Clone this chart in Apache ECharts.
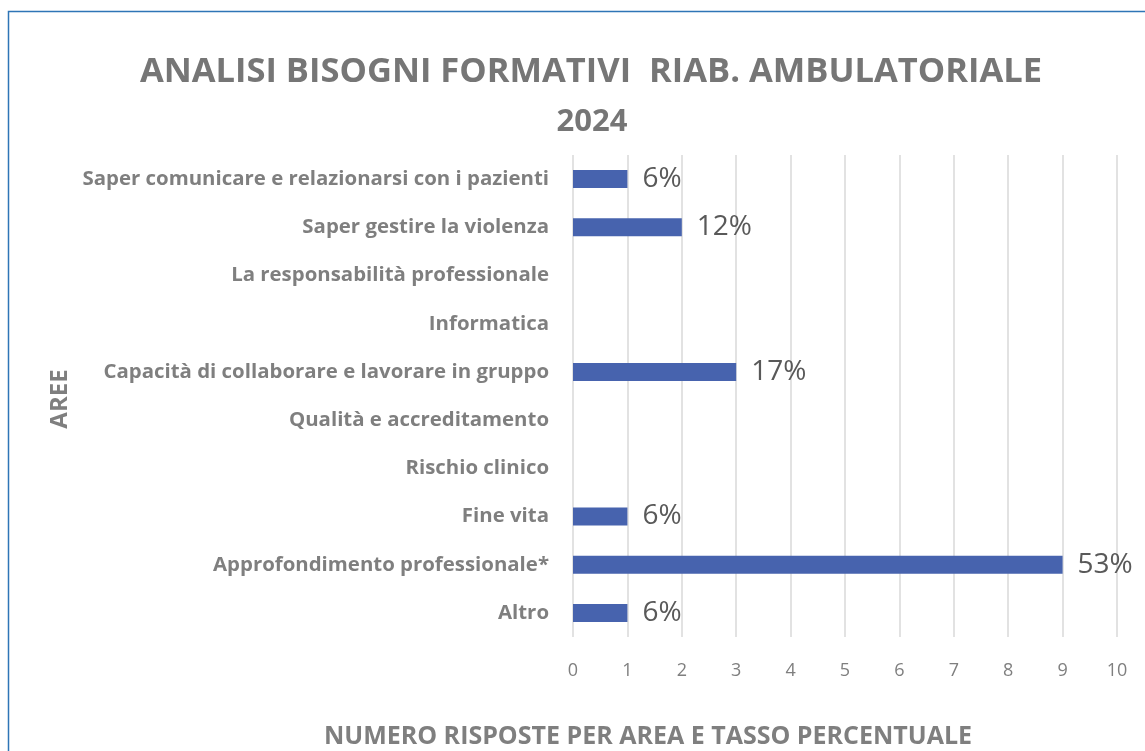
<!DOCTYPE html>
<html>
<head>
<meta charset="utf-8">
<script src="https://cdn.jsdelivr.net/npm/echarts@6.0.0/dist/echarts.min.js"></script>
<style>
  html, body { margin: 0; padding: 0; background: #fff; }
  #chart-container { width: 1145px; height: 751px; }
</style>
</head>
<body>
<div id="chart-container"></div>
<script>
const categories = [
  "Saper comunicare e relazionarsi con i pazienti",
  "Saper gestire la violenza",
  "La responsabilità professionale",
  "Informatica",
  "Capacità di collaborare e lavorare in gruppo",
  "Qualità e accreditamento",
  "Rischio clinico",
  "Fine vita",
  "Approfondimento professionale*",
  "Altro"
];
const responses = [1, 2, 0, 0, 3, 0, 0, 1, 9, 1];
const percentLabels = ["6%", "12%", "", "", "17%", "", "", "6%", "53%", "6%"];
const xTicks = [0, 1, 2, 3, 4, 5, 6, 7, 8, 9, 10];

const chart = echarts.init(document.getElementById("chart-container"));
const gray = "#7f7f7f";
const font = "'Open Sans', sans-serif";

const option = {
  backgroundColor: "#fff",
  animation: false,
  title: [
    {
      text: "ANALISI BISOGNI FORMATIVI  RIAB. AMBULATORIALE",
      left: 586, top: 50, textAlign: "center",
      textStyle: { fontFamily: font, fontSize: 34.5, fontWeight: "bold", color: "#767676" }
    },
    {
      text: "2024",
      left: 587, top: 102, textAlign: "center",
      textStyle: { fontFamily: font, fontSize: 31, fontWeight: "bold", color: "#767676" }
    }
  ],
  graphic: [
    {
      type: "rect",
      shape: { x: 8.5, y: 11.5, width: 1150, height: 760 },
      style: { fill: "none", stroke: "#2E75B6", lineWidth: 1.5 },
      silent: true
    },
    {
      type: "text",
      x: 648, y: 737,
      style: {
        text: "NUMERO RISPOSTE PER AREA E TASSO PERCENTUALE",
        fontFamily: font, fontSize: 25, fontWeight: "bold", fill: gray,
        textAlign: "center", textVerticalAlign: "middle"
      }
    },
    {
      type: "text",
      x: 60, y: 399, rotation: Math.PI / 2,
      style: {
        text: "AREE",
        fontFamily: font, fontSize: 24, fontWeight: "bold", fill: gray,
        textAlign: "center", textVerticalAlign: "middle"
      }
    }
  ],
  grid: { left: 573, right: 28, top: 155, bottom: 114, containLabel: false },
  xAxis: {
    type: "value",
    min: xTicks[0],
    max: xTicks[xTicks.length - 1],
    interval: 1,
    axisLine: { show: false },
    axisTick: { show: false },
    axisLabel: { margin: 25, fontFamily: font, fontSize: 18, color: gray },
    splitLine: { show: true, lineStyle: { color: "#d9d9d9", width: 1.5 } }
  },
  yAxis: {
    type: "category",
    inverse: true,
    data: categories,
    axisLine: { show: false },
    axisTick: { show: false },
    axisLabel: { margin: 24, fontFamily: font, fontSize: 20.4, fontWeight: "bold", color: gray }
  },
  series: [
    {
      type: "bar",
      data: responses,
      barWidth: 18,
      itemStyle: { color: "#4763AE" },
      label: {
        show: true,
        position: "right",
        distance: 15,
        fontFamily: font,
        fontSize: 28,
        color: "#595959",
        formatter: p => percentLabels[p.dataIndex]
      }
    }
  ]
};

chart.setOption(option);
</script>
</body>
</html>
